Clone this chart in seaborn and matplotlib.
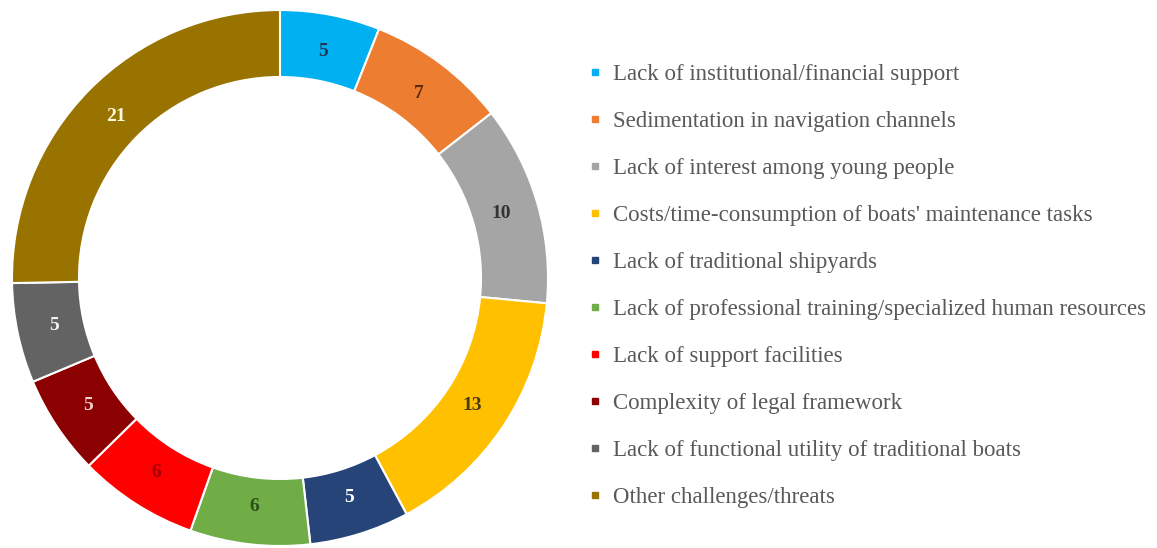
import matplotlib
matplotlib.use("Agg")
import matplotlib.pyplot as plt
import seaborn as sns
import numpy as np
from matplotlib.lines import Line2D

categories = [
    "Lack of institutional/financial support",
    "Sedimentation in navigation channels",
    "Lack of interest among young people",
    "Costs/time-consumption of boats' maintenance tasks",
    "Lack of traditional shipyards",
    "Lack of professional training/specialized human resources",
    "Lack of support facilities",
    "Complexity of legal framework",
    "Lack of functional utility of traditional boats",
    "Other challenges/threats",
]
values = [5, 7, 10, 13, 5, 6, 6, 5, 5, 21]
colors = ["#00B0F0", "#ED7D31", "#A5A5A5", "#FFC000", "#264478",
          "#70AD47", "#FF0000", "#8B0000", "#636363", "#997300"]
label_colors = ["#1F3A5A", "#5A2A0A", "#333333", "#4A3A10", "#FFFFFF",
                "#2F4F1A", "#A00000", "#F0D0D0", "#F2F2F2", "#FFF8DC"]

sns.set_theme(style="white")
plt.rcParams['font.family'] = ['Liberation Serif', 'DejaVu Serif']

W, H = 1157, 548
fig = plt.figure(figsize=(W / 100, H / 100), dpi=100)
cx, cy, R = 280, 278, 268
ax = fig.add_axes([(cx - R) / W, (H - cy - R) / H, 2 * R / W, 2 * R / H])
wedges, _ = ax.pie(values, colors=colors, startangle=90, counterclock=False,
                   radius=1.0, wedgeprops=dict(width=0.25, edgecolor="white", linewidth=1.5))
ax.set_xlim(-1, 1)
ax.set_ylim(-1, 1)
ax.set_aspect("equal")
ax.axis("off")

for w, v, lc in zip(wedges, values, label_colors):
    ang = np.deg2rad((w.theta1 + w.theta2) / 2)
    r = 0.86
    ax.text(r * np.cos(ang), r * np.sin(ang), str(v), ha="center", va="center",
            fontsize=14, fontweight="bold", color=lc)

handles = [Line2D([0], [0], marker="s", linestyle="none", markersize=5,
                  markerfacecolor=c, markeredgecolor=c) for c in colors]
leg = fig.legend(handles, categories, loc="upper left",
                 bbox_to_anchor=(580 / W, 1 - 55 / H), frameon=False,
                 fontsize=16.5, labelspacing=1.13, handlelength=0.5,
                 handletextpad=0.55, borderaxespad=0)
for t in leg.get_texts():
    t.set_color("#595959")

fig.savefig("out.png", dpi=100, facecolor="white")
